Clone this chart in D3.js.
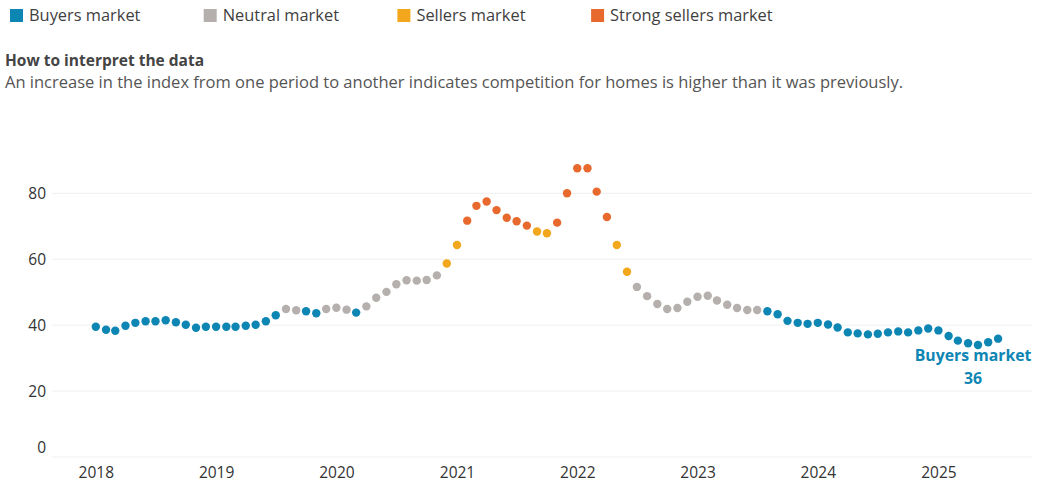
<!DOCTYPE html>
<html>
<head>
<meta charset="utf-8">
<title>Market competition index</title>
<script src="https://d3js.org/d3.v7.min.js"></script>
<style>
  body { margin: 0; background: #fff; font-family: "Open Sans", sans-serif; }
</style>
</head>
<body>

<div id="chart"></div>

<script>
  // monthly index, Jan 2018 .. Jul 2025
  const values = [
    39.5, 38.6, 38.3, 39.8, 40.7, 41.2, 41.2, 41.5, 40.9, 40.1, 39.2, 39.5,
    39.5, 39.5, 39.5, 39.8, 40.1, 41.2, 43.0, 44.9, 44.5, 44.2, 43.6, 44.9,
    45.3, 44.7, 43.8, 45.7, 48.3, 50.1, 52.4, 53.6, 53.5, 53.7, 55.1, 58.7,
    64.3, 71.7, 76.2, 77.5, 74.9, 72.6, 71.5, 70.2, 68.4, 67.9, 71.1, 80.0,
    87.6, 87.6, 80.5, 72.8, 64.3, 56.2, 51.6, 48.8, 46.4, 44.9, 45.2, 47.1,
    48.6, 48.9, 47.5, 46.2, 45.2, 44.6, 44.6, 44.2, 43.3, 41.3, 40.7, 40.4,
    40.7, 40.2, 39.3, 37.8, 37.5, 37.2, 37.4, 37.8, 38.1, 37.8, 38.4, 39.0,
    38.4, 36.7, 35.3, 34.5, 34.0, 34.8, 35.9
  ];

  // B = buyers, N = neutral, S = sellers, X = strong sellers
  const markets = [
    "BBBBBBBBBBBB",
    "BBBBBBBNNBBN",
    "NNBNNNNNNNNS",
    "SXXXXXXXSSXX",
    "XXXXSSNNNNNN",
    "NNNNNNNBBBBB",
    "BBBBBBBBBBBB",
    "BBBBBBB"
  ].join("").split("");

  const categories = ["Buyers market", "Neutral market", "Sellers market", "Strong sellers market"];
  const codes = ["B", "N", "S", "X"];
  const colors = ["#0e86b4", "#b5b0ad", "#f2a71c", "#e8692d"];
  const yTicks = [0, 20, 40, 60, 80];
  const yearTicks = [2018, 2019, 2020, 2021, 2022, 2023, 2024, 2025];

  const title = "How to interpret the data";
  const subtitle = "An increase in the index from one period to another indicates competition for homes is higher than it was previously.";

  const data = values.map((v, i) => ({
    date: new Date(2018, i, 1),
    value: v,
    market: markets[i]
  }));

  const width = 1040, height = 485;
  const color = d3.scaleOrdinal().domain(codes).range(colors);

  const svg = d3.select("#chart").append("svg")
    .attr("width", width)
    .attr("height", height)
    .style("font-family", "'Open Sans', sans-serif");

  // Legend
  const legend = svg.append("g")
    .selectAll("g")
    .data(categories)
    .enter().append("g")
    .attr("transform", (d, i) => `translate(${10 + i * 193.7},9)`);

  legend.append("rect")
    .attr("width", 13)
    .attr("height", 13)
    .attr("fill", (d, i) => colors[i]);

  legend.append("text")
    .attr("x", 19)
    .attr("y", 12)
    .style("font-size", "16.4px")
    .style("fill", "#3f3f3f")
    .text(d => d);

  // Heading
  svg.append("text")
    .attr("x", 5)
    .attr("y", 66)
    .style("font-size", "15.5px")
    .style("font-weight", "bold")
    .style("fill", "#444")
    .text(title);

  svg.append("text")
    .attr("x", 5)
    .attr("y", 88)
    .style("font-size", "16.5px")
    .style("fill", "#555")
    .text(subtitle);

  // Scales
  const x = d3.scaleTime()
    .domain([new Date(2017, 7, 21), new Date(2025, 9, 12)])
    .range([52, 1032]);

  const y = d3.scaleLinear()
    .domain([0, 80])
    .range([457, 193.3]);

  // Gridlines
  svg.append("g")
    .selectAll("line")
    .data(yTicks)
    .enter().append("line")
    .attr("x1", x.range()[0])
    .attr("x2", x.range()[1])
    .attr("y1", d => y(d))
    .attr("y2", d => y(d))
    .attr("stroke", "#efefef")
    .attr("stroke-width", 1);

  // y Axis
  const yAxis = svg.append("g")
    .attr("transform", `translate(46,0)`)
    .call(d3.axisLeft(y).tickValues(yTicks).tickSize(0).tickPadding(0));
  yAxis.select(".domain").remove();
  yAxis.selectAll("text")
    .attr("dy", d => d === 0 ? "-0.3em" : "0.35em")
    .style("font-size", "15.5px")
    .style("font-family", "'Open Sans', sans-serif")
    .style("fill", "#333");

  // x Axis
  const xAxis = svg.append("g")
    .attr("transform", `translate(0,462)`)
    .call(d3.axisBottom(x)
      .tickValues(yearTicks.map(yr => new Date(yr, 0, 1)))
      .tickFormat(d3.timeFormat("%Y"))
      .tickSize(0)
      .tickPadding(0));
  xAxis.select(".domain").remove();
  xAxis.selectAll("text")
    .attr("dy", "1em")
    .style("font-size", "15.5px")
    .style("font-family", "'Open Sans', sans-serif")
    .style("fill", "#333");

  // Dots
  svg.append("g")
    .selectAll("circle")
    .data(data)
    .enter().append("circle")
    .attr("cx", d => x(d.date))
    .attr("cy", d => y(d.value))
    .attr("r", 4.2)
    .attr("fill", d => color(d.market));

  // Last value annotation
  const last = data[data.length - 1];
  const ann = svg.append("g")
    .attr("text-anchor", "middle")
    .style("font-size", "15.8px")
    .style("font-weight", "bold")
    .style("fill", color(last.market));

  ann.append("text")
    .attr("x", x(last.date) - 25)
    .attr("y", y(last.value) + 22)
    .text(categories[codes.indexOf(last.market)]);

  ann.append("text")
    .attr("x", x(last.date) - 25)
    .attr("y", y(last.value) + 45)
    .text(Math.round(last.value));
</script>

</body>
</html>
